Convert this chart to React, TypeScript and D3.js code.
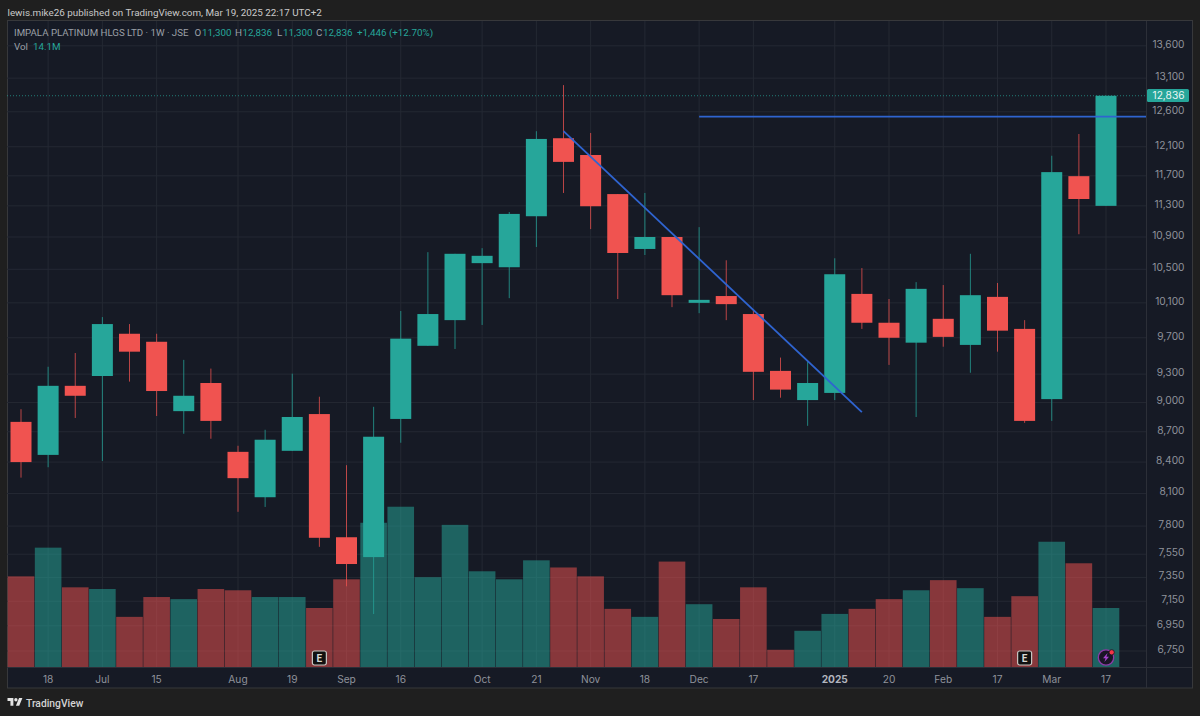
import * as React from 'react';
import {scaleLinear, scaleLog, line, format} from "d3";

// weekly candles
const opens = [8800, 8470, 9175, 9280, 9745, 9655, 8910, 9205, 8500, 8065, 8510, 8880, 7700, 7525, 8830, 9610, 9900, 10575, 10525, 11165, 12220, 11985, 11455, 10750, 10900, 10100, 10180, 9970, 9335, 9025, 9100, 10205, 9870, 9645, 9915, 9620, 10170, 9800, 9035, 11695, 11300];
const highs = [8930, 9380, 9530, 9935, 9855, 9745, 9455, 9360, 8560, 8720, 9305, 9060, 8370, 8955, 10005, 10710, 10690, 10760, 11220, 12320, 12995, 12295, 11455, 11470, 10900, 11025, 10610, 10015, 9480, 9435, 10635, 10515, 10145, 10345, 10310, 10690, 10335, 9900, 11975, 12280, 12836];
const lows = [8250, 8350, 8840, 8410, 9220, 8860, 8680, 8630, 7930, 7975, 8510, 7615, 7275, 7045, 8590, 9610, 9575, 9845, 10155, 10775, 11470, 11000, 10145, 10675, 10050, 9980, 9900, 9025, 9050, 8760, 9025, 9800, 9400, 8850, 9600, 9315, 9545, 8790, 8810, 10935, 11300];
const closes = [8400, 9175, 9070, 9855, 9545, 9120, 9070, 8810, 8245, 8620, 8850, 7695, 7465, 8650, 9690, 9970, 10690, 10665, 11195, 12210, 11890, 11295, 10700, 10900, 10190, 10135, 10085, 9325, 9135, 9205, 10440, 9870, 9700, 10265, 9710, 10190, 9780, 8810, 11750, 11390, 12836];
const volumes = [21.6, 28.4, 19.0, 18.6, 12.0, 16.7, 16.2, 18.6, 18.3, 16.7, 16.7, 14.1, 20.9, 34.3, 38.1, 21.4, 33.8, 22.8, 20.9, 25.4, 23.7, 21.6, 13.9, 12.0, 25.1, 15.0, 11.5, 19.0, 4.2, 8.7, 12.7, 13.9, 16.2, 18.3, 20.7, 18.8, 12.0, 16.9, 29.8, 24.7, 14.1];

const priceTicks = [13600, 13100, 12600, 12100, 11700, 11300, 10900, 10500, 10100, 9700, 9300, 9000, 8700, 8400, 8100, 7800, 7550, 7350, 7150, 6950, 6750];
const timeTicks = [1, 3, 5, 8, 10, 12, 14, 17, 19, 21, 23, 25, 27, 30, 32, 34, 36, 38, 40];
const timeLabels = ["18", "Jul", "15", "Aug", "19", "Sep", "16", "Oct", "21", "Nov", "18", "Dec", "17", "2025", "20", "Feb", "17", "Mar", "17"];

// drawn trend lines as [candle index, price]
const downTrend: [number, number][] = [[20, 12320], [31, 8900]];
const flatLine: [number, number][] = [[25, 12530], [42, 12530]];
const earnings = [11, 37];
const lastPrice = 12836;

const width = 1200;
const height = 716;
const left = 7;
const top = 21;
const axisX = 1146.5;
const axisY = 667.5;
const right = 1192;
const bottom = 688;
const bodyWidth = 21;
const volWidth = 26.6;

const up = '#26a69a';
const down = '#f05350';
const muted = '#9ca0a8';
const axisText = '#8f929b';
const font = 'Roboto, Inter, sans-serif';
const axisFont = 'Inter, Roboto, sans-serif';

const xScale = scaleLinear().domain([0, 40]).range([21, 1106]);
const yScale = scaleLog().domain([13600, 6750]).range([45.8, 651]);
const volScale = scaleLinear().domain([0, 14.1]).range([axisY, 608]);

const priceFormat = format(',');
const trendPath = line<[number, number]>()
    .x(d => xScale(d[0]))
    .y(d => yScale(d[1]));

const App = () => {
    const candles = opens.map((o, i) => {
        const c = closes[i];
        const color = c >= o ? up : down;
        const bodyTop = yScale(Math.max(o, c));
        const bodyBottom = yScale(Math.min(o, c));
        return (
            <g key={i} fill={color}>
                <rect x={xScale(i) - 0.5} y={yScale(highs[i])} width={1} height={yScale(lows[i]) - yScale(highs[i])} opacity={0.75} />
                <rect x={xScale(i) - bodyWidth / 2} y={bodyTop} width={bodyWidth} height={bodyBottom - bodyTop} />
            </g>
        );
    });
    const volumeBars = volumes.map((v, i) => (
        <rect
            key={i}
            x={xScale(i) - volWidth / 2}
            y={volScale(v)}
            width={volWidth}
            height={axisY - volScale(v)}
            fill={closes[i] >= opens[i] ? up : down}
            opacity={0.52}
        />
    ));
    return (
        <svg width={width} height={height} style={{position: 'absolute', left: 0, top: 0, display: 'block'}} fontFamily={font}>
            <defs>
                <clipPath id="plot">
                    <rect x={left} y={top} width={axisX - left} height={axisY - top} />
                </clipPath>
            </defs>
            <rect width={width} height={height} fill="#1f1f1f" />
            <text x={7.5} y={15.5} fontSize={9.85} fill="#c9c9c9">lewis.mike26 published on TradingView.com, Mar 19, 2025 22:17 UTC+2</text>

            <rect x={left + 0.5} y={top - 0.5} width={right - left} height={bottom - top + 0.5} fill="#161a25" stroke="#37383b" />

            {priceTicks.map(t => (
                <line key={t} x1={left} x2={axisX} y1={yScale(t)} y2={yScale(t)} stroke="#242833" />
            ))}
            {timeTicks.map(t => (
                <line key={t} x1={xScale(t)} x2={xScale(t)} y1={top} y2={axisY} stroke="#242833" />
            ))}

            {volumeBars}
            {candles}

            <line x1={left} x2={axisX} y1={yScale(lastPrice)} y2={yScale(lastPrice)} stroke={up} strokeOpacity={0.7} strokeDasharray="1 2" />
            <g clipPath="url(#plot)" fill="none" stroke="#2f64d0" strokeWidth={1.8}>
                <path d={trendPath(downTrend) || ''} />
                <path d={trendPath(flatLine) || ''} />
            </g>

            {earnings.map(i => (
                <g key={i} transform={`translate(${xScale(i)},658)`}>
                    <rect x={-7} y={-7} width={14} height={14} rx={2} fill="#111" stroke="#c8c8c4" strokeWidth={1.2} />
                    <text textAnchor="middle" y={3.6} fontSize={10} fontWeight={700} fill="#d8d8d4">E</text>
                </g>
            ))}
            <g transform={`translate(${xScale(40)},657.5)`}>
                <circle r={7.7} fill="#1a1526" stroke="#8e3aa8" strokeWidth={1.3} />
                <path d="M1.6 -4.6 L-3 0.8 L-0.4 0.8 L-1.6 4.6 L3 -0.8 L0.4 -0.8 Z" fill="#a845d0" />
                <circle cx={5.7} cy={-5.2} r={2.6} fill="#f23645" stroke="#1a1526" strokeWidth={0.8} />
            </g>

            <line x1={axisX} x2={axisX} y1={top} y2={bottom} stroke="#2c2f38" />
            <line x1={left} x2={right} y1={axisY} y2={axisY} stroke="#2c2f38" />

            <g fontFamily={axisFont} fontSize={10.2}>
                {priceTicks.map(t => (
                    <text key={t} x={1184.5} y={yScale(t) + 1.9} textAnchor="end" fill={axisText}>{priceFormat(t)}</text>
                ))}
                <rect x={1147} y={89} width={42} height={13} rx={1.5} fill={up} />
                <text x={1184.5} y={yScale(lastPrice) + 3.6} textAnchor="end" fill="#e9f5f3">{priceFormat(lastPrice)}</text>

                {timeTicks.map((t, i) => (
                    <text
                        key={t}
                        x={xScale(t)}
                        y={682.7}
                        textAnchor="middle"
                        fontWeight={timeLabels[i] === '2025' ? 700 : 400}
                        fill={timeLabels[i] === '2025' ? '#b2b5be' : axisText}
                    >
                        {timeLabels[i]}
                    </text>
                ))}
            </g>

            <text x={14} y={36} fontSize={9.7} fill={muted}>
                IMPALA PLATINUM HLGS LTD · 1W · JSE
            </text>
            <text y={36} fontSize={9.8} fill={up}>
                <tspan x={194.5} fill={muted}>O</tspan><tspan x={202}>11,300</tspan>
                <tspan x={235} fill={muted}>H</tspan><tspan x={242.5}>12,836</tspan>
                <tspan x={277} fill={muted}>L</tspan><tspan x={283}>11,300</tspan>
                <tspan x={316} fill={muted}>C</tspan><tspan x={323}>12,836</tspan>
                <tspan x={357}>+1,446 (+12.70%)</tspan>
            </text>
            <text x={14} y={49.5} fontSize={9.8} fill={muted}>Vol</text>
            <text x={33} y={49.5} fontSize={9.8} fill={up}>14.1M</text>

            <g transform="translate(7.5,696.4) scale(0.42)" fill="#e4e4e4">
                <path d="M14 22H7V11H0V4h14v18zM28 22h-8l7.5-18h8L28 22z" />
                <circle cx={20} cy={8} r={4} />
            </g>
            <text x={26} y={707} fontSize={10.3} fontWeight={500} fill="#d4d4d4">TradingView</text>
        </svg>
    );
};

export default App;
